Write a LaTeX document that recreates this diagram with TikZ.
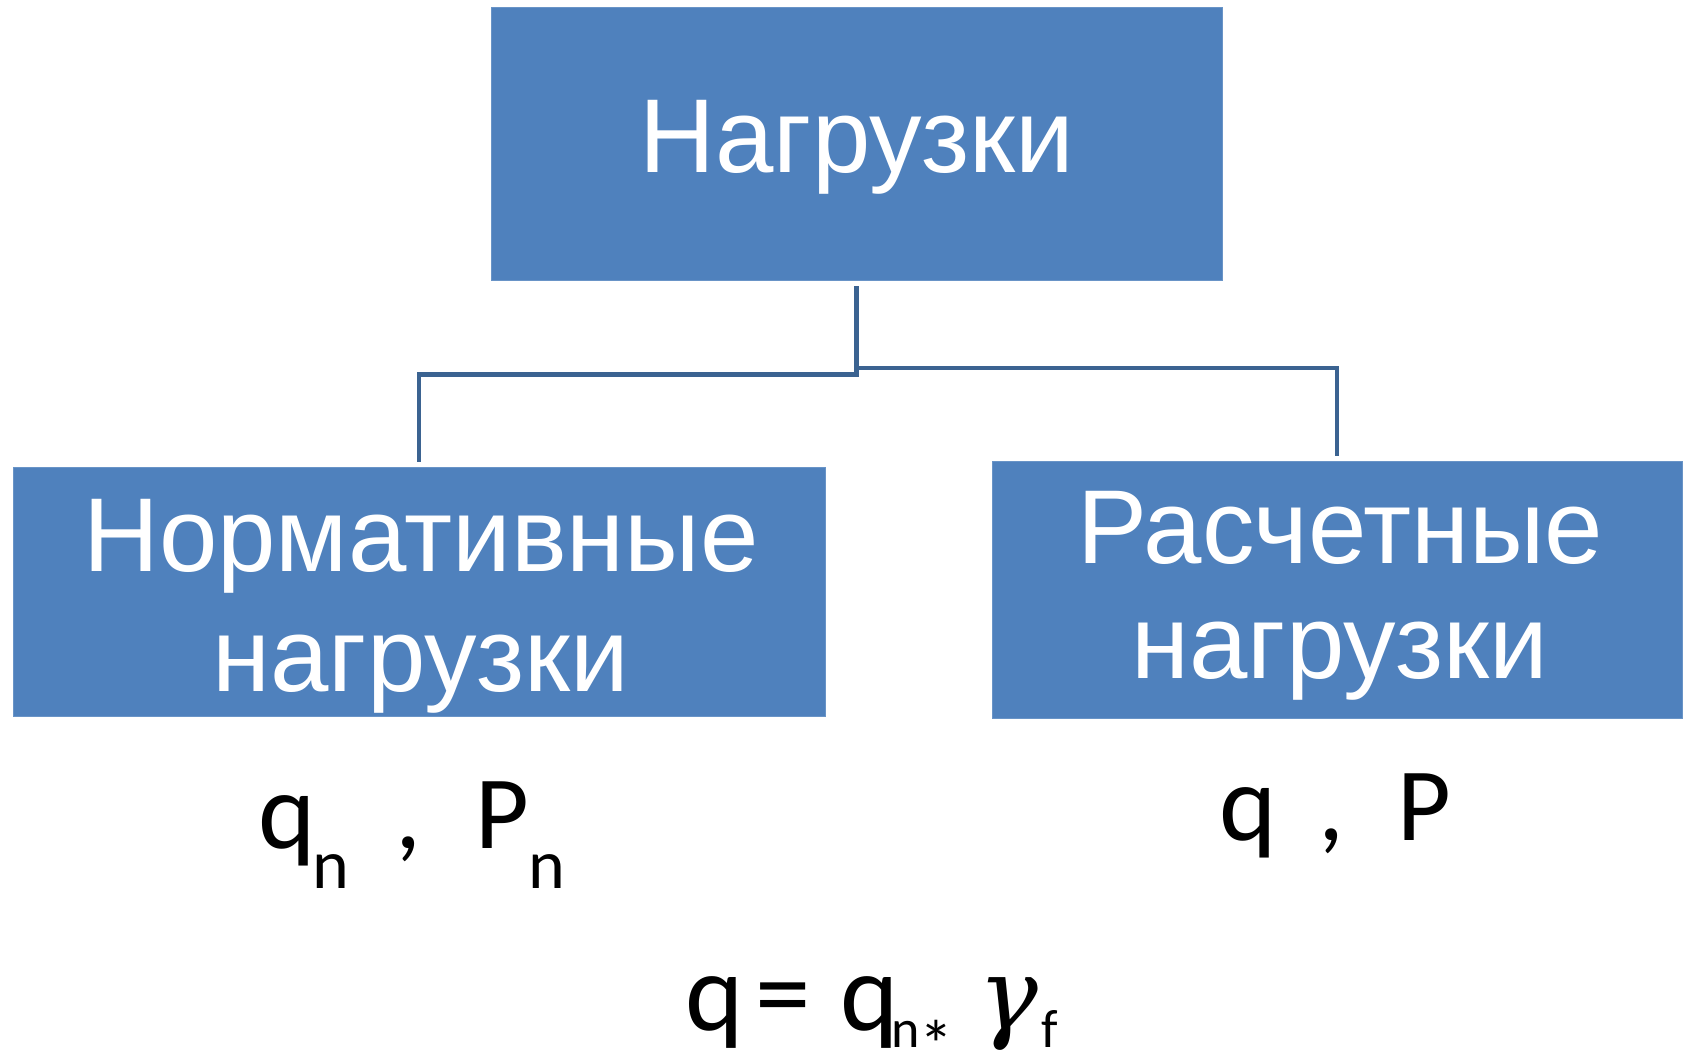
\documentclass[tikz,border=0pt]{standalone}
\usepackage{fontspec}
\setmainfont{Liberation Sans}
\newfontfamily\calib{Carlito}
\newfontfamily\greekf{DejaVu Serif}
\definecolor{boxblue}{HTML}{4F81BD}
\definecolor{connblue}{HTML}{3B6391}
\tikzset{
  bluebox/.style={rectangle, fill=boxblue, draw=boxblue!85!white, line width=0.8pt, inner sep=0pt},
  boxtext/.style={anchor=north, inner sep=0pt, align=center, text=white, font=\fontsize{105}{118}\selectfont},
  conn/.style={draw=connblue, line width=4.5pt, shorten <=5.5pt, shorten >=5pt},
  bigsym/.style={anchor=base, inner sep=0pt, font=\calib\fontsize{109}{120}\selectfont},
  capsym/.style={anchor=base, inner sep=0pt, font=\calib\fontsize{104}{120}\selectfont},
  subsym/.style={anchor=base, inner sep=0pt, font=\calib\fontsize{70}{80}\selectfont},
  fbig/.style={anchor=base, inner sep=0pt, font=\calib\fontsize{111}{120}\selectfont},
  fsub/.style={anchor=base, inner sep=0pt, font=\calib\fontsize{54}{60}\selectfont}
}
\begin{document}
\begin{tikzpicture}[x=1pt, y=-1pt]
\useasboundingbox (0,0) rectangle (1685,1056);
% boxes
\node[bluebox, minimum width=731pt, minimum height=273pt] (top) at (856.5,144) {};
\node[bluebox, minimum width=812pt, minimum height=249pt] (left) at (419,591.5) {};
\node[bluebox, minimum width=690pt, minimum height=257pt] (right) at (1337,589.5) {};
% box texts
\node[boxtext] (ttop) at (857,100) {Нагрузки};
\node[boxtext, font=\fontsize{105}{120}\selectfont] (tleft) at (421,499) {Нормативные\\нагрузки};
\node[boxtext, font=\fontsize{105}{115}\selectfont] (tright) at (1340,491) {Расчетные\\нагрузки};
% connectors
\draw[conn] (top.south) -- ++(0,93.5) -| (left.north);
\draw[conn] (top.south) -- ++(0,87) -| (right.north);
% left symbols
\node[bigsym] (q1) at (287,848) {q};
\node[subsym] (n1) at (331,888) {n};
\node[capsym] (c1) at (408,848) {,};
\node[capsym] (p1) at (502,848) {P};
\node[subsym] (n2) at (546.5,888) {n};
% right symbols
\node[bigsym] (q2) at (1248,840) {q};
\node[capsym] (c2) at (1331,840) {,};
\node[capsym] (p2) at (1424.5,840) {P};
% formula
\node[fbig] (fq1) at (714.5,1030) {q};
\node[fbig] (feq) at (783.5,1030) {=};
\node[fbig] (fq2) at (869.5,1030) {q};
\node[fsub] (fn) at (906,1047) {n};
\node[anchor=base, inner sep=0pt, font=\calib\fontsize{68}{68}\selectfont] (fast) at (936,1068) {*};
\node[anchor=base, inner sep=0pt, font=\greekf\itshape\fontsize{100}{100}\selectfont] (fg) at (1008,1029) {γ};
\node[fsub] (ff) at (1050,1047) {f};
\end{tikzpicture}
\end{document}
